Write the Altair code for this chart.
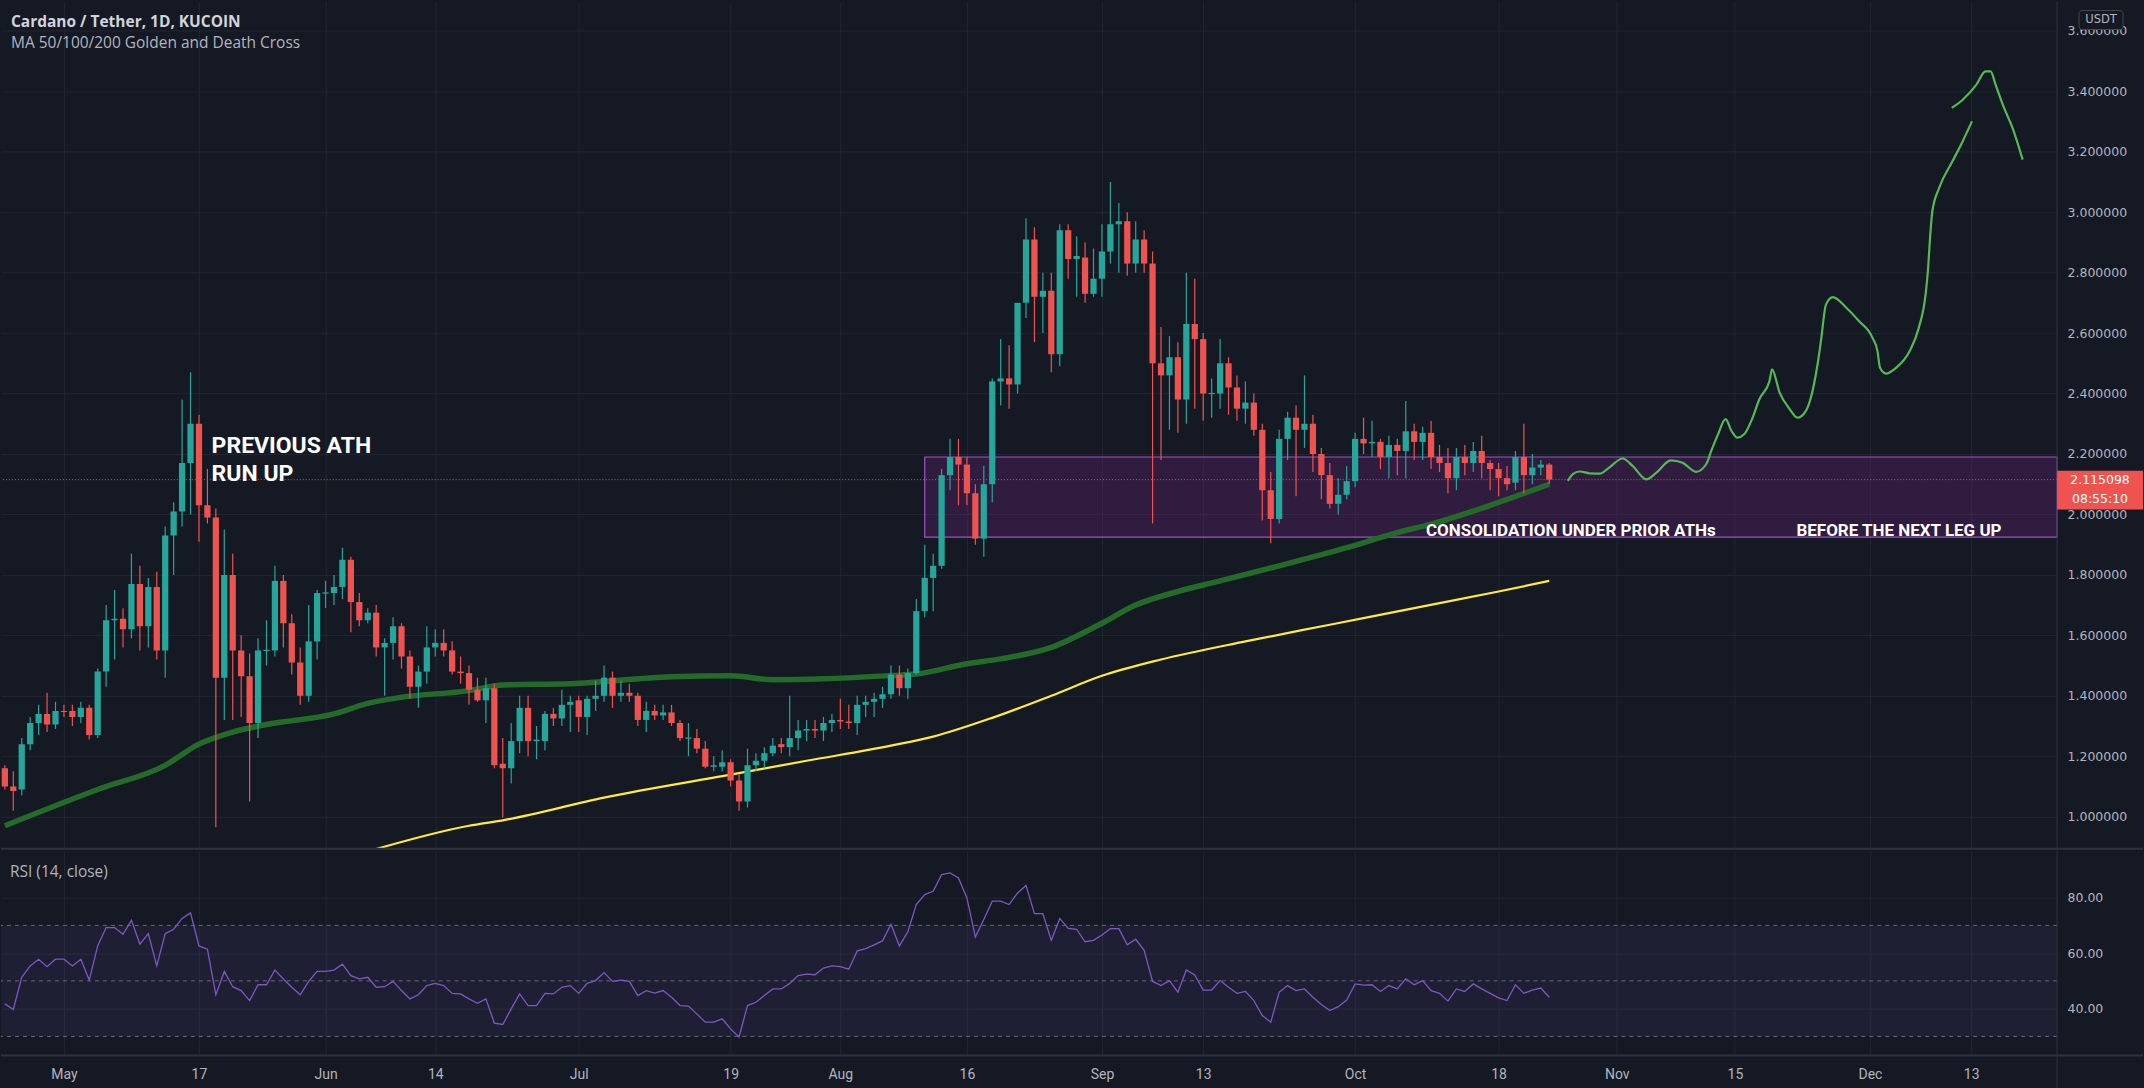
import altair as alt
import pandas as pd

# ---------------- data ----------------
START_DATE = "2021-04-24"
ORIGIN = "2021-05-01"

opens = [
    1.16, 1.10, 1.09, 1.24, 1.31, 1.34, 1.305,
    1.35, 1.35, 1.33, 1.36, 1.27, 1.48, 1.65, 1.655, 1.62, 1.77,
    1.63, 1.76, 1.55, 1.93, 2.01, 2.17, 2.30, 2.03, 1.99, 1.46,
    1.80, 1.55, 1.465, 1.31, 1.55, 1.55, 1.78, 1.64, 1.51, 1.40, 1.58,
    1.74, 1.74, 1.76, 1.85, 1.71, 1.65, 1.675, 1.56, 1.575, 1.63,
    1.53, 1.43, 1.48, 1.56, 1.575, 1.55, 1.48, 1.475, 1.42, 1.385,
    1.425, 1.175, 1.16, 1.25, 1.36, 1.25, 1.25, 1.34, 1.325, 1.37,
    1.385, 1.33, 1.39, 1.40, 1.46, 1.40, 1.41, 1.40, 1.32, 1.35,
    1.335, 1.345, 1.31, 1.26, 1.26, 1.225, 1.165, 1.165, 1.18, 1.12,
    1.05, 1.17, 1.185, 1.21, 1.24, 1.23, 1.26, 1.285, 1.29, 1.285, 1.31,
    1.32, 1.315, 1.31, 1.37, 1.38, 1.39, 1.405, 1.47, 1.425, 1.475,
    1.68, 1.79, 1.83, 2.13, 2.19, 2.165, 2.07, 1.92, 2.10, 2.44,
    2.45, 2.43, 2.70, 2.91, 2.72, 2.74, 2.53, 2.94, 2.845, 2.85, 2.73,
    2.78, 2.87, 2.96, 2.97, 2.83, 2.91, 2.83, 2.50, 2.46, 2.52,
    2.38, 2.63, 2.58, 2.40, 2.40, 2.50, 2.42, 2.35, 2.37, 2.28,
    2.08, 1.985, 2.25, 2.32, 2.28, 2.30, 2.20, 2.13, 2.035, 2.065,
    2.11, 2.25, 2.235, 2.24, 2.19, 2.23, 2.21, 2.275, 2.24, 2.27,
    2.19, 2.17, 2.12, 2.19, 2.17, 2.21, 2.17, 2.15, 2.12, 2.105,
    2.19, 2.13, 2.155, 2.165,
]
highs = [
    1.17, 1.15, 1.26, 1.33, 1.37, 1.41, 1.38,
    1.37, 1.37, 1.38, 1.37, 1.49, 1.70, 1.75, 1.69, 1.87, 1.83,
    1.79, 1.81, 1.96, 2.04, 2.38, 2.47, 2.33, 2.15, 2.02, 1.95,
    1.87, 1.60, 1.54, 1.59, 1.65, 1.83, 1.80, 1.67, 1.56, 1.70, 1.75,
    1.78, 1.80, 1.89, 1.86, 1.74, 1.69, 1.70, 1.59, 1.66, 1.64,
    1.55, 1.50, 1.63, 1.62, 1.62, 1.58, 1.53, 1.50, 1.46, 1.46,
    1.44, 1.26, 1.31, 1.40, 1.40, 1.30, 1.35, 1.36, 1.42, 1.40,
    1.40, 1.40, 1.45, 1.50, 1.48, 1.45, 1.44, 1.41, 1.38, 1.37,
    1.37, 1.37, 1.32, 1.31, 1.29, 1.25, 1.20, 1.22, 1.19, 1.14,
    1.225, 1.21, 1.23, 1.26, 1.26, 1.40, 1.32, 1.32, 1.32, 1.33, 1.34,
    1.39, 1.37, 1.40, 1.40, 1.41, 1.43, 1.50, 1.50, 1.49, 1.72,
    1.90, 1.87, 2.15, 2.25, 2.25, 2.19, 2.10, 2.16, 2.45, 2.58,
    2.56, 2.70, 2.98, 2.95, 2.80, 2.80, 2.96, 2.96, 2.92, 2.90, 2.88,
    2.96, 3.10, 3.03, 3.00, 2.97, 2.94, 2.87, 2.62, 2.59, 2.57,
    2.80, 2.78, 2.60, 2.45, 2.58, 2.52, 2.46, 2.44, 2.40, 2.30,
    2.14, 2.28, 2.34, 2.36, 2.46, 2.33, 2.22, 2.17, 2.12, 2.16,
    2.27, 2.32, 2.31, 2.25, 2.26, 2.25, 2.375, 2.30, 2.29, 2.31,
    2.23, 2.22, 2.22, 2.23, 2.24, 2.26, 2.18, 2.17, 2.16, 2.21,
    2.30, 2.20, 2.18, 2.17,
]
lows = [
    1.09, 1.02, 1.07, 1.22, 1.27, 1.28, 1.29,
    1.33, 1.30, 1.31, 1.255, 1.26, 1.43, 1.52, 1.56, 1.59, 1.55,
    1.56, 1.52, 1.46, 1.80, 1.96, 2.00, 1.91, 1.97, 0.965, 1.32,
    1.32, 1.33, 1.05, 1.26, 1.50, 1.53, 1.56, 1.47, 1.37, 1.38, 1.52,
    1.69, 1.70, 1.72, 1.61, 1.63, 1.64, 1.53, 1.40, 1.52, 1.49,
    1.39, 1.36, 1.44, 1.53, 1.53, 1.47, 1.44, 1.37, 1.38, 1.31,
    1.16, 0.997, 1.11, 1.21, 1.20, 1.19, 1.22, 1.30, 1.30, 1.28,
    1.28, 1.27, 1.35, 1.38, 1.36, 1.38, 1.38, 1.30, 1.28, 1.32,
    1.32, 1.30, 1.25, 1.20, 1.21, 1.16, 1.15, 1.15, 1.10, 1.02,
    1.03, 1.15, 1.16, 1.20, 1.21, 1.20, 1.22, 1.25, 1.26, 1.25, 1.28,
    1.29, 1.29, 1.27, 1.33, 1.33, 1.36, 1.39, 1.40, 1.39, 1.47,
    1.66, 1.68, 1.82, 2.08, 2.03, 2.03, 1.90, 1.86, 2.04, 2.36,
    2.35, 2.40, 2.65, 2.57, 2.60, 2.47, 2.49, 2.78, 2.72, 2.70, 2.72,
    2.72, 2.83, 2.80, 2.79, 2.80, 2.80, 1.97, 2.18, 2.28, 2.27,
    2.30, 2.35, 2.31, 2.32, 2.35, 2.33, 2.31, 2.30, 2.26, 1.98,
    1.905, 1.97, 2.18, 2.06, 2.22, 2.14, 2.05, 2.02, 2.00, 2.05,
    2.09, 2.20, 2.19, 2.15, 2.12, 2.13, 2.12, 2.18, 2.18, 2.15,
    2.14, 2.07, 2.08, 2.13, 2.14, 2.12, 2.08, 2.06, 2.08, 2.08,
    2.07, 2.10, 2.13, 2.10,
]
closes = [
    1.10, 1.085, 1.24, 1.31, 1.34, 1.305, 1.35,
    1.348, 1.33, 1.36, 1.27, 1.48, 1.65, 1.655, 1.62, 1.77, 1.63,
    1.76, 1.55, 1.93, 2.01, 2.17, 2.30, 2.03, 1.99, 1.46, 1.80,
    1.55, 1.465, 1.31, 1.55, 1.552, 1.78, 1.64, 1.51, 1.40, 1.58, 1.74,
    1.742, 1.76, 1.85, 1.71, 1.65, 1.675, 1.56, 1.575, 1.63, 1.53,
    1.43, 1.48, 1.56, 1.575, 1.55, 1.48, 1.475, 1.42, 1.385, 1.425,
    1.17, 1.16, 1.25, 1.36, 1.25, 1.255, 1.34, 1.325, 1.37, 1.38,
    1.33, 1.39, 1.40, 1.46, 1.40, 1.41, 1.40, 1.32, 1.35, 1.335,
    1.345, 1.31, 1.26, 1.262, 1.225, 1.165, 1.17, 1.18, 1.12, 1.05,
    1.17, 1.185, 1.21, 1.235, 1.23, 1.26, 1.285, 1.29, 1.285, 1.31, 1.32,
    1.315, 1.31, 1.37, 1.38, 1.39, 1.405, 1.47, 1.425, 1.475, 1.68,
    1.79, 1.83, 2.13, 2.19, 2.165, 2.07, 1.92, 2.10, 2.44, 2.45,
    2.43, 2.70, 2.91, 2.72, 2.74, 2.53, 2.94, 2.845, 2.855, 2.73, 2.78,
    2.87, 2.96, 2.97, 2.83, 2.91, 2.83, 2.50, 2.46, 2.52, 2.38,
    2.63, 2.58, 2.40, 2.402, 2.50, 2.42, 2.35, 2.37, 2.28, 2.08,
    1.985, 2.25, 2.32, 2.28, 2.30, 2.20, 2.13, 2.035, 2.065, 2.11,
    2.25, 2.235, 2.24, 2.19, 2.23, 2.21, 2.275, 2.24, 2.27, 2.19,
    2.17, 2.12, 2.19, 2.17, 2.21, 2.17, 2.15, 2.12, 2.10, 2.19,
    2.13, 2.155, 2.165, 2.115098,
]
rsi_values = [
    41.7, 39.7, 51.3, 55.4, 57.8, 55.1, 57.8,
    57.8, 55.4, 57.8, 50.3, 62.6, 69.2, 69.2, 66.8, 71.8, 63.2,
    67.0, 55.4, 67.0, 68.6, 72.5, 74.5, 62.6, 61.4, 45.0, 53.4,
    47.9, 46.5, 42.9, 48.6, 48.6, 53.9, 50.7, 47.7, 45.0, 49.8, 53.4,
    53.4, 53.9, 56.0, 51.9, 50.7, 51.3, 47.7, 47.9, 49.8, 46.5,
    43.5, 45.0, 48.3, 49.1, 48.3, 45.5, 45.3, 43.5, 41.9, 43.5,
    34.8, 34.3, 39.9, 45.3, 41.1, 41.1, 45.5, 45.3, 47.7, 48.3,
    45.5, 49.1, 50.1, 53.0, 49.8, 50.3, 49.8, 44.7, 46.5, 45.6,
    46.5, 44.1, 41.1, 40.9, 38.1, 35.1, 35.1, 36.3, 32.7, 29.8,
    41.1, 42.3, 44.7, 47.1, 47.1, 49.1, 51.9, 52.4, 52.2, 54.6, 55.4,
    55.1, 54.2, 60.8, 61.6, 63.0, 64.4, 70.4, 62.6, 67.7, 77.5,
    81.1, 82.3, 88.3, 88.9, 87.1, 79.9, 65.8, 72.1, 78.7, 78.7,
    77.5, 81.7, 84.4, 74.2, 74.2, 64.6, 72.5, 68.9, 68.6, 64.1, 64.6,
    66.5, 68.8, 68.8, 63.0, 65.0, 61.0, 49.8, 48.3, 50.1, 45.9,
    53.9, 52.1, 46.7, 46.7, 50.1, 47.7, 45.5, 46.2, 42.9, 37.5,
    35.1, 45.9, 48.3, 46.5, 47.1, 44.1, 41.5, 39.3, 40.7, 43.1,
    48.9, 48.5, 48.6, 46.2, 48.3, 47.1, 50.7, 48.6, 50.1, 46.5,
    45.5, 42.7, 47.1, 46.2, 48.9, 47.1, 45.5, 43.9, 42.9, 48.6,
    45.5, 46.7, 47.4, 44.1,
]

ma100_dates = ["2021-04-24", "2021-05-05", "2021-05-13", "2021-05-17", "2021-05-21",
               "2021-05-25", "2021-06-02", "2021-06-06", "2021-06-10", "2021-06-18",
               "2021-06-22", "2021-06-30", "2021-07-12", "2021-07-19", "2021-07-24",
               "2021-07-30", "2021-08-07", "2021-08-10", "2021-08-16", "2021-08-20",
               "2021-08-26", "2021-09-01", "2021-09-05", "2021-09-10", "2021-09-15",
               "2021-09-22", "2021-09-30", "2021-10-06", "2021-10-10", "2021-10-17",
               "2021-10-24"]
ma100_values = [0.97, 1.09, 1.17, 1.24, 1.28, 1.305, 1.34, 1.375, 1.395, 1.417,
                1.436, 1.44, 1.463, 1.466, 1.453, 1.456, 1.467, 1.472, 1.506, 1.522,
                1.56, 1.64, 1.70, 1.745, 1.78, 1.83, 1.89, 1.94, 1.968, 2.03, 2.10]

ma200_dates = ["2021-06-06", "2021-06-18", "2021-06-22", "2021-07-04", "2021-07-19",
               "2021-07-28", "2021-08-07", "2021-08-12", "2021-08-19", "2021-08-26",
               "2021-09-01", "2021-09-08", "2021-09-18", "2021-09-28", "2021-10-08",
               "2021-10-18", "2021-10-24"]
ma200_values = [0.885, 0.97, 0.988, 1.063, 1.139, 1.185, 1.235, 1.265, 1.327, 1.40,
                1.466, 1.52, 1.58, 1.635, 1.69, 1.745, 1.78]

# hand-drawn projection (day offset from May 1, price)
proj1_day = [178.2, 178.8, 179.6, 180.8, 182.0, 183.1, 184.7, 185.9, 187.5, 188.7,
             190.4, 191.8, 193.4, 194.6, 195.2, 196.0, 196.9, 197.6, 198.3, 199.1,
             200.1, 200.9, 202.1, 202.4, 203.3, 204.5, 205.4, 206.4, 207.0, 207.8,
             208.2, 208.8, 209.6, 211.2, 212.7, 214.3, 214.9, 215.2, 215.9, 217.1,
             218.7, 219.8, 220.6, 220.9, 221.1, 221.4, 222.2, 223.8, 225.0, 226.1]
proj1_price = [2.111, 2.133, 2.142, 2.136, 2.135, 2.155, 2.185, 2.160, 2.116, 2.138,
               2.179, 2.171, 2.141, 2.166, 2.210, 2.265, 2.315, 2.276, 2.254, 2.265,
               2.320, 2.381, 2.441, 2.480, 2.403, 2.348, 2.320, 2.342, 2.386, 2.497,
               2.574, 2.695, 2.719, 2.684, 2.640, 2.585, 2.540, 2.485, 2.466, 2.485,
               2.540, 2.618, 2.728, 2.816, 2.904, 3.003, 3.080, 3.169, 3.235, 3.301]
proj2_day = [223.7, 225.0, 226.6, 227.7, 228.3, 228.9, 229.9, 230.9, 232.1]
proj2_price = [3.345, 3.372, 3.421, 3.466, 3.466, 3.421, 3.345, 3.279, 3.174]

zone_start_date = "2021-08-11"
zone_top = 2.19
zone_bottom = 1.925

tick_dates = ["2021-05-01", "2021-05-17", "2021-06-01", "2021-06-14", "2021-07-01",
              "2021-07-19", "2021-08-01", "2021-08-16", "2021-09-01", "2021-09-13",
              "2021-10-01", "2021-10-18", "2021-11-01", "2021-11-15", "2021-12-01",
              "2021-12-13"]
tick_labels = ["May", "17", "Jun", "14", "Jul", "19", "Aug", "16", "Sep", "13",
               "Oct", "18", "Nov", "15", "Dec", "13"]
price_ticks = [1.0, 1.2, 1.4, 1.6, 1.8, 2.0, 2.2, 2.4, 2.6, 2.8, 3.0, 3.2, 3.4, 3.6]
rsi_ticks = [40, 60, 80]
rsi_levels = [70, 50, 30]

ath_text = "PREVIOUS ATH\nRUN UP"
ath_day = 17.5
ath_price = 2.203
note_text = ["CONSOLIDATION UNDER PRIOR ATHs", "BEFORE THE NEXT LEG UP"]
note_day = [161.4, 205.3]
note_price = [1.929, 1.929]

# ---------------- layout / style ----------------
W, H_TOP, H_RSI, AXIS_W = 2058, 848, 205, 86
X_MIN, X_MAX = -7.458, 236.18
Y_MIN, Y_MAX = 0.894, 3.697
R_MIN, R_MAX = 23.1, 96.9
BG = "#151924"
GRID = "#222630"
SEP = "#2f333e"
TXT = "#b2b5be"
UP, DOWN = "#26a69a", "#ef5350"


def day_of(s):
    return (pd.Timestamp(s) - pd.Timestamp(ORIGIN)).days


n = len(opens)
d0 = day_of(START_DATE)
candles = pd.DataFrame({"d": [d0 + i for i in range(n)], "o": opens, "h": highs,
                        "l": lows, "c": closes})
candles["top"] = candles[["o", "c"]].max(axis=1)
candles["bot"] = candles[["o", "c"]].min(axis=1)
thin = (candles["top"] - candles["bot"]) < 0.004
candles.loc[thin, "bot"] = candles.loc[thin, "top"] - 0.004
candles["color"] = [UP if c >= o else DOWN for o, c in zip(opens, closes)]
candles["x1"] = candles["d"] - 0.37
candles["x2"] = candles["d"] + 0.37

rsi_df = pd.DataFrame({"d": [d0 + i for i in range(n)], "r": rsi_values})
ma100 = pd.DataFrame({"d": [day_of(s) for s in ma100_dates], "p": ma100_values})
ma200 = pd.DataFrame({"d": [day_of(s) for s in ma200_dates], "p": ma200_values})
proj = pd.DataFrame({
    "d": proj1_day + proj2_day,
    "p": proj1_price + proj2_price,
    "s": [1] * len(proj1_day) + [2] * len(proj2_day),
    "i": list(range(len(proj1_day))) + list(range(len(proj2_day))),
})
zone = pd.DataFrame({"x1": [day_of(zone_start_date)], "x2": [X_MAX],
                     "t": [zone_top], "b": [zone_bottom]})
last = pd.DataFrame({"p": [closes[-1]]})
one = pd.DataFrame({"k": [0]})
ath_df = pd.DataFrame({"d": [ath_day], "p": [ath_price], "t": [ath_text]})
note_df = pd.DataFrame({"d": note_day, "p": note_price, "t": note_text})
tick_days = [day_of(s) for s in tick_dates]
label_expr = "''"
for dd, lab in reversed(list(zip(tick_days, tick_labels))):
    label_expr = f"datum.value == {dd} ? '{lab}' : ({label_expr})"
band = pd.DataFrame({"lo": [min(rsi_levels)], "hi": [max(rsi_levels)]})
levels = pd.DataFrame({"lvl": rsi_levels})

XSC = alt.Scale(domain=[X_MIN, X_MAX], nice=False, zero=False)
YSC = alt.Scale(domain=[Y_MIN, Y_MAX], nice=False, zero=False)
RSC = alt.Scale(domain=[R_MIN, R_MAX], nice=False, zero=False)

x_axis_top = alt.Axis(values=tick_days, labels=False, ticks=False, domain=False,
                      grid=True, title=None)
x_axis_bot = alt.Axis(values=tick_days, labelExpr=label_expr, ticks=False, domain=False,
                      grid=True, title=None, labelFont="Roboto", labelFontSize=14,
                      labelPadding=12, labelColor=TXT)
y_axis_top = alt.Axis(orient="right", values=price_ticks, format=".6f", ticks=False,
                      domain=False, grid=True, title=None, labelPadding=10)
y_axis_rsi = alt.Axis(orient="right", values=rsi_ticks, format=".2f", ticks=False,
                      domain=False, grid=True, title=None, labelPadding=10)


def xt(f):
    return alt.X(f"{f}:Q", scale=XSC, axis=x_axis_top)


def yt(f):
    return alt.Y(f"{f}:Q", scale=YSC, axis=y_axis_top)


def xb(f):
    return alt.X(f"{f}:Q", scale=XSC, axis=x_axis_bot)


def yb(f):
    return alt.Y(f"{f}:Q", scale=RSC, axis=y_axis_rsi)


# ---------------- top pane ----------------
zone_l = alt.Chart(zone).mark_rect(fill="#9c27b0", fillOpacity=0.2, stroke="#a352c4",
                                   strokeWidth=1.2).encode(
    x=xt("x1"), x2="x2", y=yt("t"), y2="b")
price_line = alt.Chart(last).mark_rule(color=DOWN, strokeDash=[1, 2], strokeWidth=1,
                                       opacity=0.9).encode(y=yt("p"))
ma100_l = alt.Chart(ma100).mark_line(color="#246b2a", strokeWidth=5.5, clip=True,
                                     interpolate="monotone").encode(x=xt("d"), y=yt("p"))
ma200_l = alt.Chart(ma200).mark_line(color="#ffeb3b", strokeWidth=2.2, clip=True,
                                     interpolate="monotone").encode(x=xt("d"), y=yt("p"))
wicks = alt.Chart(candles).mark_rule(strokeWidth=1.2, clip=True).encode(
    x=xt("d"), y=yt("l"), y2="h", color=alt.Color("color:N", scale=None))
bodies = alt.Chart(candles).mark_rect(clip=True).encode(
    x=xt("x1"), x2="x2", y=yt("top"), y2="bot", color=alt.Color("color:N", scale=None))
proj_l = alt.Chart(proj).mark_line(color="#55b955", strokeWidth=2.2,
                                   interpolate="monotone").encode(
    x=xt("d"), y=yt("p"), detail="s:N", order="i:Q")
ath_l = alt.Chart(ath_df).mark_text(align="left", baseline="alphabetic", font="Roboto",
                                    fontWeight="bold", fontSize=23, color="#ffffff",
                                    lineBreak="\n", lineHeight=27.5).encode(
    x=xt("d"), y=yt("p"), text="t:N")
note_l = alt.Chart(note_df).mark_text(align="left", baseline="alphabetic", font="Roboto",
                                      fontWeight="bold", fontSize=17, color="#ffffff").encode(
    x=xt("d"), y=yt("p"), text="t:N")
title1 = alt.Chart(one).mark_text(align="left", baseline="alphabetic", font="Open Sans",
                                  fontWeight="bold", fontSize=15.5, color="#d1d4dc").encode(
    x=alt.value(10), y=alt.value(26), text=alt.value("Cardano / Tether, 1D, KUCOIN"))
title2 = alt.Chart(one).mark_text(align="left", baseline="alphabetic", font="Open Sans",
                                  fontSize=15.5, color=TXT).encode(
    x=alt.value(10), y=alt.value(47), text=alt.value("MA 50/100/200 Golden and Death Cross"))
tag_rect = alt.Chart(last).mark_rect(color=DOWN, yOffset=-9, y2Offset=30).encode(
    x=alt.value(W), x2=alt.value(W + AXIS_W), y=yt("p"), y2="p")
tag_t1 = alt.Chart(last).mark_text(align="center", baseline="middle", font="DejaVu Sans",
                                   fontSize=12.5, color="#ffffff").encode(
    x=alt.value(W + 43), y=yt("p"), text=alt.value("2.115098"))
tag_t2 = alt.Chart(last).mark_text(align="center", baseline="middle", font="DejaVu Sans",
                                   fontSize=12.5, color="#ffffff", dy=19).encode(
    x=alt.value(W + 43), y=yt("p"), text=alt.value("08:55:10"))
usdt_box = alt.Chart(one).mark_rect(fill=BG, stroke="#434651", strokeWidth=1,
                                    cornerRadius=3).encode(
    x=alt.value(W + 22), x2=alt.value(W + 66), y=alt.value(9), y2=alt.value(28))
usdt_t = alt.Chart(one).mark_text(align="center", baseline="middle", font="DejaVu Sans",
                                  fontSize=11.5, color=TXT).encode(
    x=alt.value(W + 44), y=alt.value(19), text=alt.value("USDT"))
sep_h = alt.Chart(one).mark_rule(color=SEP, strokeWidth=2).encode(
    x=alt.value(0), x2=alt.value(W + AXIS_W), y=alt.value(H_TOP))
sep_v = alt.Chart(one).mark_rule(color=SEP, strokeWidth=1).encode(
    x=alt.value(W), y=alt.value(0), y2=alt.value(H_TOP))

top = alt.layer(zone_l, price_line, ma100_l, ma200_l, wicks, bodies, proj_l, ath_l,
                note_l, title1, title2, sep_v, sep_h, tag_rect, tag_t1, tag_t2,
                usdt_box, usdt_t).properties(width=W, height=H_TOP)

# ---------------- RSI pane ----------------
band_l = alt.Chart(band).mark_rect(fill="#7e57c2", fillOpacity=0.1).encode(
    x=alt.value(0), x2=alt.value(W), y=yb("lo"), y2="hi")
lvl_l = alt.Chart(levels).mark_rule(color="#787b86", strokeDash=[4, 4], strokeWidth=1,
                                    opacity=0.8).encode(y=yb("lvl"))
rsi_l = alt.Chart(rsi_df).mark_line(color="#7e57c2", strokeWidth=1.3, clip=True).encode(
    x=xb("d"), y=yb("r"))
rsi_title = alt.Chart(one).mark_text(align="left", baseline="alphabetic", font="Open Sans",
                                     fontSize=15.5, color=TXT).encode(
    x=alt.value(9), y=alt.value(26), text=alt.value("RSI (14, close)"))
sep_v2 = alt.Chart(one).mark_rule(color=SEP, strokeWidth=1).encode(
    x=alt.value(W), y=alt.value(0), y2=alt.value(H_RSI + 35))
sep_h2 = alt.Chart(one).mark_rule(color=SEP, strokeWidth=2).encode(
    x=alt.value(0), x2=alt.value(W + AXIS_W), y=alt.value(H_RSI))

bottom = alt.layer(band_l, lvl_l, rsi_l, rsi_title, sep_v2, sep_h2).properties(
    width=W, height=H_RSI)

chart = alt.vconcat(top, bottom, spacing=0).properties(
    padding=0, background=BG
).configure_view(stroke=None).configure_axis(
    gridColor=GRID, gridWidth=1, labelColor=TXT, labelFont="DejaVu Sans",
    labelFontSize=12.5
)

chart.save("out.html", embed_options={"renderer": "svg", "actions": False})
